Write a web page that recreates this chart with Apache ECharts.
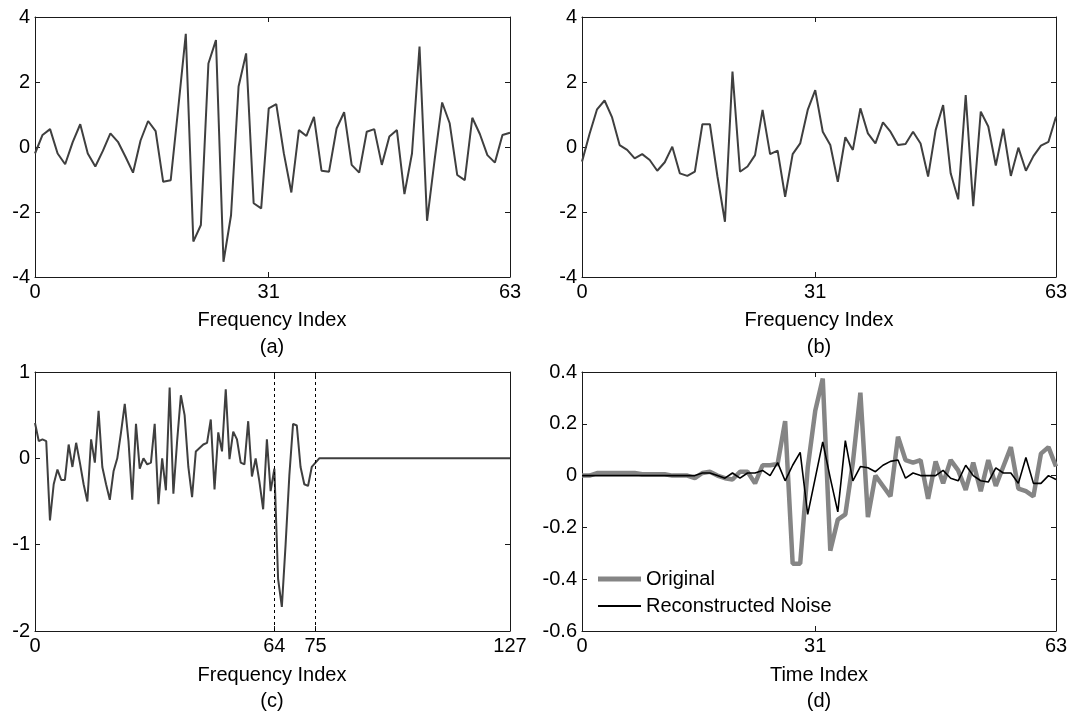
<!DOCTYPE html>
<html>
<head>
<meta charset="utf-8">
<script src="https://cdn.jsdelivr.net/npm/echarts@6/dist/echarts.min.js"></script>
<style>
  html, body { margin: 0; padding: 0; background: #ffffff; }
  #chart { width: 1072px; height: 712px; }
</style>
</head>
<body>
<div id="chart"></div>
<script>
// (a) spectrum of the first frame, 64 frequency bins
const specA = [
  -0.2, 0.37, 0.55, -0.2, -0.53, 0.15, 0.7, -0.2, -0.6, -0.12,
  0.42, 0.16, -0.3, -0.79, 0.2, 0.8, 0.49, -1.07, -1.02, 1.2,
  3.48, -2.91, -2.4, 2.57, 3.29, -3.53, -2.1, 1.86, 2.88, -1.73,
  -1.89, 1.19, 1.32, -0.19, -1.4, 0.52, 0.34, 0.93, -0.73, -0.76,
  0.57, 1.07, -0.55, -0.79, 0.47, 0.55, -0.55, 0.32, 0.52, -1.45,
  -0.2, 3.09, -2.27, -0.4, 1.37, 0.73, -0.86, -1.02, 0.9, 0.4,
  -0.25, -0.48, 0.37, 0.44
];
// (b) spectrum of the second frame, 64 frequency bins
const specB = [
  -0.45, 0.4, 1.16, 1.43, 0.91, 0.06, -0.09, -0.35, -0.22, -0.4,
  -0.73, -0.47, 0.01, -0.81, -0.89, -0.76, 0.7, 0.7, -0.9, -2.3,
  2.32, -0.76, -0.6, -0.25, 1.14, -0.22, -0.11, -1.53, -0.22, 0.11,
  1.14, 1.75, 0.47, 0.06, -1.07, 0.3, -0.09, 1.19, 0.42, 0.11,
  0.76, 0.47, 0.06, 0.09, 0.47, 0.11, -0.91, 0.52, 1.29, -0.81,
  -1.61, 1.6, -1.82, 1.09, 0.63, -0.57, 0.56, -0.89, -0.02, -0.73,
  -0.28, 0.04, 0.16, 0.93
];
// (c) combined 128-bin spectrum, zero beyond bin 75
const specC = [
  0.41, 0.2, 0.22, 0.2, -0.72, -0.3, -0.13, -0.25, -0.25, 0.16,
  -0.1, 0.18, -0.05, -0.3, -0.5, 0.22, -0.05, 0.55, -0.1, -0.3,
  -0.48, -0.15, 0.0, 0.3, 0.63, 0.2, -0.48, 0.4, -0.12, 0.0,
  -0.07, -0.05, 0.4, -0.53, 0.0, -0.37, 0.82, -0.41, 0.2, 0.73,
  0.5, -0.1, -0.45, 0.08, 0.12, 0.16, 0.18, 0.45, -0.36, 0.3,
  0.08, 0.8, -0.01, 0.31, 0.22, -0.05, -0.07, 0.43, -0.21, 0.0,
  -0.27, -0.59, 0.22, -0.38, -0.12, -1.4, -1.72, -1.0, -0.2, 0.4,
  0.38, -0.1, -0.3, -0.32, -0.1, -0.05, 0, 0, 0, 0,
  0, 0, 0, 0, 0, 0, 0, 0, 0, 0,
  0, 0, 0, 0, 0, 0, 0, 0, 0, 0,
  0, 0, 0, 0, 0, 0, 0, 0, 0, 0,
  0, 0, 0, 0, 0, 0, 0, 0, 0, 0,
  0, 0, 0, 0, 0, 0, 0, 0
];
// (d) time signals, 64 samples
const original = [
  0, 0, 0.01, 0.01, 0.01, 0.01, 0.01, 0.01, 0.005, 0.005,
  0.005, 0.005, 0, 0, 0, -0.01, 0.01, 0.015, 0, -0.01,
  -0.015, 0.015, 0.015, -0.03, 0.04, 0.04, 0.045, 0.21, -0.34, -0.34,
  0.03, 0.25, 0.375, -0.29, -0.17, -0.15, 0.05, 0.32, -0.16, 0.0,
  -0.04, -0.08, 0.15, 0.06, 0.05, 0.06, -0.09, 0.055, -0.03, 0.06,
  0.02, -0.055, 0.05, -0.06, 0.06, -0.04, 0.035, 0.11, -0.05, -0.06,
  -0.08, 0.085, 0.11, 0.035
];
const noise = [
  0, 0, 0, 0, 0, 0, 0, 0, 0, 0,
  0, 0, 0, 0, 0, 0, 0.01, 0.01, 0, -0.01,
  0.01, -0.01, 0.01, 0.01, 0.02, 0, 0.05, -0.02, 0.04, 0.09,
  -0.15, -0.01, 0.13, -0.01, -0.14, 0.135, -0.02, 0.035, 0.03, 0.015,
  0.04, 0.055, 0.06, -0.01, 0.01, 0, 0, 0, 0.02, -0.01,
  -0.02, 0.04, 0, -0.02, -0.025, 0.03, 0.01, 0.01, -0.03, 0.07,
  -0.03, -0.03, 0, -0.015
];
const ticks64 = [0, 31, 63];
const ticks128 = [0, 64, 75, 127];
const cutoffs = [64, 75];

const FONT = 'Liberation Sans';
const INK = '#000000';
const FRAME = '#1a1a1a';

const pairs = arr => arr.map((v, i) => [i, v]);

const grids = [
  { left: 35, top: 17, width: 475, height: 260 },
  { left: 582, top: 17, width: 474, height: 260 },
  { left: 35, top: 372, width: 475, height: 259 },
  { left: 582, top: 372, width: 474, height: 259 }
];

function xPair(gi, max, tickVals) {
  const base = {
    type: 'value', gridIndex: gi, min: 0, max: max,
    splitLine: { show: false },
    axisLine: { show: true, onZero: false, lineStyle: { color: FRAME, width: 1 } },
    axisTick: { show: true, inside: true, length: 5, customValues: tickVals, lineStyle: { color: FRAME } }
  };
  return [
    Object.assign({}, base, {
      position: 'bottom',
      axisLabel: { show: true, customValues: tickVals, margin: 5, color: INK, fontFamily: FONT, fontSize: 20 }
    }),
    Object.assign({}, base, { position: 'top', axisLabel: { show: false } })
  ];
}

function yPair(gi, min, max, step) {
  const base = {
    type: 'value', gridIndex: gi, min: min, max: max, interval: step,
    splitLine: { show: false },
    axisLine: { show: true, onZero: false, lineStyle: { color: FRAME, width: 1 } },
    axisTick: { show: true, inside: true, length: 5, lineStyle: { color: FRAME } }
  };
  return [
    Object.assign({}, base, {
      position: 'left',
      axisLabel: {
        show: true, margin: 5, color: INK, fontFamily: FONT, fontSize: 20,
        formatter: v => String(Math.round(v * 10) / 10)
      }
    }),
    Object.assign({}, base, { position: 'right', axisLabel: { show: false } })
  ];
}

const xAxis = [].concat(xPair(0, 63, ticks64), xPair(1, 63, ticks64), xPair(2, 127, ticks128), xPair(3, 63, ticks64));
const yAxis = [].concat(yPair(0, -4, 4, 2), yPair(1, -4, 4, 2), yPair(2, -2, 1, 1), yPair(3, -0.6, 0.4, 0.2));

function spectrumSeries(name, arr, xi, yi, extra) {
  return Object.assign({
    name: name, type: 'line', xAxisIndex: xi, yAxisIndex: yi,
    data: pairs(arr), symbol: 'none', showSymbol: false,
    lineStyle: { color: '#3f3f3f', width: 2 }, itemStyle: { color: '#3f3f3f' },
    silent: true, animation: false
  }, extra || {});
}

const series = [
  spectrumSeries('specA', specA, 0, 0),
  spectrumSeries('specB', specB, 2, 2),
  spectrumSeries('specC', specC, 4, 4, {
    markLine: {
      silent: true, symbol: 'none', animation: false,
      label: { show: false },
      lineStyle: { color: '#000', width: 1, type: [3, 3] },
      data: cutoffs.map(c => ({ xAxis: c }))
    }
  }),
  {
    name: 'Original', type: 'line', xAxisIndex: 6, yAxisIndex: 6,
    data: pairs(original), symbol: 'none', showSymbol: false,
    lineStyle: { color: '#858585', width: 4.5 }, itemStyle: { color: '#858585' },
    silent: true, animation: false
  },
  {
    name: 'Reconstructed Noise', type: 'line', xAxisIndex: 6, yAxisIndex: 6,
    data: pairs(noise), symbol: 'none', showSymbol: false,
    lineStyle: { color: '#000000', width: 1.6 }, itemStyle: { color: '#000000' },
    silent: true, animation: false
  }
];

const legendText = { color: INK, fontFamily: FONT, fontSize: 20 };
const legend = [
  { data: ['Original'], left: 598, top: 569, icon: 'rect', itemWidth: 43, itemHeight: 5,
    itemGap: 0, textStyle: legendText, selectedMode: false, padding: 0 },
  { data: ['Reconstructed Noise'], left: 598, top: 596, icon: 'rect', itemWidth: 43, itemHeight: 2,
    itemGap: 0, textStyle: legendText, selectedMode: false, padding: 0 }
];

function caption(text, x, y) {
  return { type: 'text', silent: true,
    style: { text: text, x: x, y: y, textAlign: 'center', textVerticalAlign: 'middle',
      font: '20px "' + FONT + '"', fill: INK } };
}

const graphic = [
  caption('Frequency Index', 272, 320), caption('(a)', 272, 347),
  caption('Frequency Index', 819, 320), caption('(b)', 819, 347),
  caption('Frequency Index', 272, 675), caption('(c)', 272, 701),
  caption('Time Index', 819, 675), caption('(d)', 819, 701)
];

const chart = echarts.init(document.getElementById('chart'), null, { renderer: 'canvas' });
chart.setOption({
  backgroundColor: '#ffffff',
  animation: false,
  grid: grids,
  xAxis: xAxis,
  yAxis: yAxis,
  series: series,
  legend: legend,
  graphic: graphic
});
</script>
</body>
</html>
